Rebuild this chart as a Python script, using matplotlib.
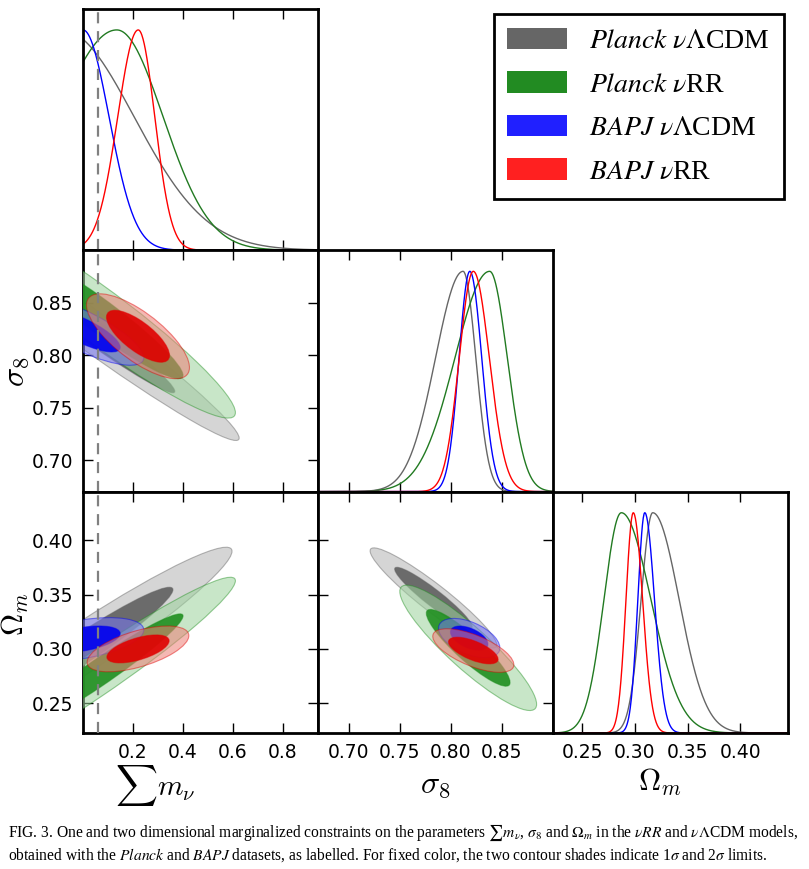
import numpy as np
import matplotlib
matplotlib.use("Agg")
import matplotlib.pyplot as plt
from matplotlib.patches import Ellipse, Patch

plt.rcParams['font.family'] = 'DejaVu Sans'
plt.rcParams['mathtext.fontset'] = 'cm'

# models: Planck vLCDM, Planck vRR, BAPJ vLCDM, BAPJ vRR
labels = [r'$\mathit{Planck}\ \nu\Lambda$CDM', r'$\mathit{Planck}\ \nu$RR',
          r'$\mathit{BAPJ}\ \nu\Lambda$CDM', r'$\mathit{BAPJ}\ \nu$RR']
line_col = ['#666666', '#217a21', '#0000ff', '#ff0000']
dark_col = ['#606060', '#1f8f1f', '#0000f0', '#e00000']
light_col = ['#b4b4b4', '#9bd29b', '#7676f6', '#ed7f76']
legend_col = ['#666666', '#228b22', '#2020ff', '#ff2020']

# 1D marginals: peak, sigma below peak, sigma above peak
mnu_peak = [-0.085, 0.135, 0.0, 0.221]
mnu_lo = [0.289, 0.24, 0.104, 0.082]
mnu_hi = [0.289, 0.185, 0.104, 0.066]

s8_peak = [0.812, 0.838, 0.8186, 0.822]
s8_lo = [0.027, 0.034, 0.0106, 0.0138]
s8_hi = [0.0125, 0.0173, 0.0117, 0.0157]

om_peak = [0.3169, 0.2872, 0.3094, 0.2985]
om_lo = [0.011, 0.0165, 0.0066, 0.0069]
om_hi = [0.025, 0.028, 0.0092, 0.0088]

# 2D: centre x, centre y, sigma x, sigma y, correlation
mnu_s8 = [(-0.04, 0.836, 0.268, 0.0473, -0.980),
          (0.069, 0.837, 0.218, 0.0391, -0.946),
          (0.0, 0.823, 0.098, 0.01315, -0.776),
          (0.22, 0.818, 0.083, 0.0163, -0.736)]
mnu_om = [(-0.014, 0.2985, 0.246, 0.0384, 0.961),
          (0.069, 0.279, 0.218, 0.0351, 0.963),
          (0.0, 0.309, 0.098, 0.008, 0.43),
          (0.22, 0.300, 0.082, 0.0085, 0.58)]
s8_om = [(0.783, 0.347, 0.025, 0.0186, -0.94),
         (0.817, 0.301, 0.027, 0.0233, -0.90),
         (0.818, 0.310, 0.0121, 0.0073, -0.5),
         (0.822, 0.2985, 0.016, 0.0081, -0.65)]

mnu_lim = (0.0, 0.94)
s8_lim = (0.67, 0.90)
om_lim = (0.2225, 0.445)
mnu_ticks = [0.2, 0.4, 0.6, 0.8]
s8_ticks = [0.70, 0.75, 0.80, 0.85]
om_ticks = [0.25, 0.30, 0.35, 0.40]
mnu_line = 0.06

K1, K2 = 1.52, 2.48


def split_gauss(x, p, lo, hi):
    s = np.where(x < p, lo, hi)
    return np.exp(-0.5 * ((x - p) / s) ** 2)


def cov_ellipse(ax, par, k, fc, ec, alpha, z):
    cx, cy, sx, sy, r = par
    cov = np.array([[sx * sx, r * sx * sy], [r * sx * sy, sy * sy]])
    w, v = np.linalg.eigh(cov)
    ang = np.degrees(np.arctan2(v[1, 1], v[0, 1]))
    e = Ellipse((cx, cy), 2 * k * np.sqrt(w[1]), 2 * k * np.sqrt(w[0]), angle=ang,
                facecolor=fc, edgecolor='none', alpha=alpha, zorder=z)
    ax.add_patch(e)
    e2 = Ellipse((cx, cy), 2 * k * np.sqrt(w[1]), 2 * k * np.sqrt(w[0]), angle=ang,
                 facecolor='none', edgecolor=ec, alpha=0.45, lw=0.8, zorder=z)
    ax.add_patch(e2)


fig = plt.figure(figsize=(8.09, 8.69), dpi=100)
L, W = 83 / 809, 235 / 809
B, H = 0.1565, 0.2778
axes = {}
for r in range(3):
    for c in range(r + 1):
        axes[(r, c)] = fig.add_axes([L + c * W, B + (2 - r) * H, W, H])

lims = [mnu_lim, s8_lim, om_lim]
ticks = [mnu_ticks, s8_ticks, om_ticks]
pk = [mnu_peak, s8_peak, om_peak]
lo = [mnu_lo, s8_lo, om_lo]
hi = [mnu_hi, s8_hi, om_hi]
pairs = {(1, 0): mnu_s8, (2, 0): mnu_om, (2, 1): s8_om}

for (r, c), ax in axes.items():
    for sp in ax.spines.values():
        sp.set_linewidth(2)
    ax.set_xlim(lims[c])
    ax.set_xticks(ticks[c])
    ax.tick_params(direction='in', length=7, width=1, top=True, right=True,
                   labelsize=13.5, pad=7)
    if r == c:
        x = np.linspace(lims[c][0], lims[c][1], 600)
        for i in range(4):
            ax.plot(x, split_gauss(x, pk[c][i], lo[c][i], hi[c][i]),
                    color=line_col[i], lw=1)
        ax.set_ylim(0, 1.096)
        ax.set_yticks([])
    else:
        ax.set_ylim(lims[r])
        ax.set_yticks(ticks[r])
        for i, par in enumerate(pairs[(r, c)]):
            cov_ellipse(ax, par, K2, light_col[i], dark_col[i], 0.55, 2 + 2 * i)
            cov_ellipse(ax, par, K1, dark_col[i], dark_col[i], 0.9, 3 + 2 * i)
    if c == 0:
        ax.axvline(mnu_line, color='#808080', lw=1.6, ls=(0, (5, 3.5)), zorder=20)
    if r != 2:
        ax.tick_params(labelbottom=False)
    if c != 0 or r == 0:
        ax.tick_params(labelleft=False)

fig.text(16 / 809, 1 - 372 / 869, r'$\sigma_8$', fontsize=23, rotation=90,
         ha='center', va='center')
fig.text(15 / 809, 1 - 614 / 869, r'$\Omega_m$', fontsize=22, rotation=90,
         ha='center', va='center')
fig.text(155 / 809, 1 - 786 / 869, r'$\sum m_\nu$', fontsize=21, ha='center', va='center')
fig.text(435 / 809, 1 - 784 / 869, r'$\sigma_8$', fontsize=23, ha='center', va='center')
fig.text(660 / 809, 1 - 782 / 869, r'$\Omega_m$', fontsize=22, ha='center', va='center')

handles = [Patch(facecolor=legend_col[i], edgecolor='none') for i in range(4)]
leg = fig.legend(handles, labels, loc='upper right',
                 bbox_to_anchor=(784 / 809, 1 - 14 / 869), borderaxespad=0,
                 prop={'family': 'Liberation Serif', 'size': 20},
                 handlelength=2.15, handleheight=0.8, handletextpad=0.8,
                 labelspacing=0.62, borderpad=0.5, fancybox=False,
                 edgecolor='black', framealpha=1)
leg.get_frame().set_linewidth(2)
for t in leg.get_texts():
    t.set_math_fontfamily('stix')

cap1 = (r'FIG. 3. One and two dimensional marginalized constraints on the parameters '
        r'$\sum m_\nu$, $\sigma_8$ and $\Omega_m$ in the $\nu RR$ and $\nu\Lambda$CDM models,')
cap2 = (r'obtained with the $\mathit{Planck}$ and $\mathit{BAPJ}$ datasets, as labelled. '
        r'For fixed color, the two contour shades indicate 1$\sigma$ and 2$\sigma$ limits.')
for yy, s in [(833, cap1), (855, cap2)]:
    fig.text(8 / 809, 1 - yy / 869, s, fontsize=11.2, family='Liberation Serif',
             math_fontfamily='stix', ha='left', va='center')

fig.savefig('out.png', dpi=100)
